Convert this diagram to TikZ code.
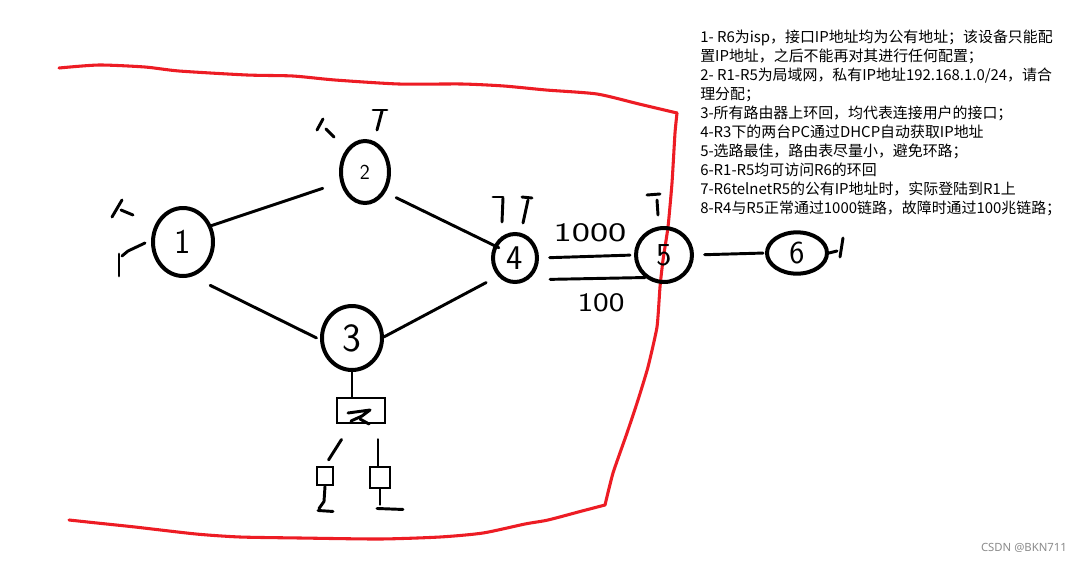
\documentclass[tikz,border=0pt]{standalone}
\usepackage{fontspec}
\newfontfamily\cjk{Noto Sans CJK SC}
\newfontfamily\wmfont{Noto Sans}
\usetikzlibrary{shapes.geometric,calc}
\definecolor{redpen}{RGB}{237,28,36}
\begin{document}
\begin{tikzpicture}[x=0.75pt,y=-0.75pt,
  router/.style={ellipse, draw=black, line width=3pt, inner sep=0pt},
  link/.style={line width=2.2pt, line cap=round},
  stroke/.style={line width=2.2pt, line cap=round, line join=round},
  redline/.style={draw=redpen, line width=2.3pt, line cap=round, line join=round},
  boxnode/.style={rectangle, draw=black, line width=2.2pt, inner sep=0pt},
  note/.style={anchor=base west, inner sep=0pt, font=\cjk\fontsize{11.2pt}{14pt}\selectfont},
  hand/.style={inner sep=0pt, font=\sffamily\fontsize{20pt}{20pt}\selectfont},
  ]
\useasboundingbox (0,0) rectangle (1082,561);
\fill[white] (0,0) rectangle (1082,561);

% red boundary
\draw[redline] plot[smooth, tension=0.4] coordinates {(59,68) (99,65) (145,67) (179,71) (247,75) (293,76) (335,80) (399,84) (462,84) (504,86) (546,90) (597,94) (639,104) (677,113)};
\draw[redline] plot[smooth, tension=0.3] coordinates {(677,113) (675,133) (672,183) (668,227) (663,260) (660,287) (657,327) (648,367) (638,400) (627,433) (613,473) (605,505)};
\draw[redline] plot[smooth, tension=0.4] coordinates {(605,505) (582,511) (548,520) (525,524) (483,533) (440,537) (380,539) (300,538) (240,537) (196,534) (135,527) (97,523) (69,520)};

% routers
\node[router, minimum width=45pt, minimum height=51pt, font=\sffamily\fontsize{26pt}{26pt}\selectfont] (r1) at (183,242) {1};
\node[router, minimum width=36pt, minimum height=46.5pt, font=\sffamily\fontsize{16pt}{16pt}\selectfont] (r2) at (365,172) {2};
\node[router, minimum width=45pt, minimum height=48pt, font=\sffamily\fontsize{30pt}{30pt}\selectfont] (r3) at (352,338) {3};
\node[router, minimum width=33pt, minimum height=36pt, font=\sffamily\fontsize{26pt}{26pt}\selectfont] (r4) at (515,258) {4};
\node[router, minimum width=42pt, minimum height=40.5pt, font=\sffamily\fontsize{24pt}{24pt}\selectfont] (r5) at (664,255) {5};
\node[router, minimum width=45pt, minimum height=31pt, font=\sffamily\fontsize{24pt}{24pt}\selectfont] (r6) at (797,253) {6};

% links
\draw[link, shorten >=13.9pt] (r1.30) -- (r2.203);
\draw[link, shorten <=9pt, shorten >=-4pt] (r2.-45) -- (r4.149);
\draw[link, shorten <=15pt, shorten >=3pt] (r1.-75) -- (r3.183);
\draw[link, shorten >=10pt] (r3.2) -- (r4.227);
\draw[link, shorten <=8pt, shorten >=3pt] (r4.east) -- (r5.west);
\draw[link, shorten <=16.5pt] (r4.-59) -- (r5.230);
\draw[link, shorten <=8pt, shorten >=1.5pt] (r5.east) -- (r6.west);

\node[hand, xscale=1.45] (l1000) at (590,233) {1000};
\node[hand, xscale=1.25] (l100) at (601,303) {100};

% switch and PCs
\node[boxnode, minimum width=36pt, minimum height=18.75pt] (sw) at (361,410.5) {};
\draw[link] (r3.south) -- (r3.south |- sw.north);
\draw[stroke] (348,413) -- (370,410) -- (362,416) -- (351,421);
\draw[stroke] (360,419) -- (369,424);
\node[boxnode, minimum width=12pt, minimum height=13.5pt] (pc1) at (325,476) {};
\node[boxnode, minimum width=15pt, minimum height=15.75pt] (pc2) at (380,477.5) {};
\coordinate (swl) at ($(sw.south west)+(6,15)$);
\coordinate (swr) at ($(sw.south)+(17,15)$);
\draw[link, shorten >=5pt] (swl) -- (pc1.north);
\draw[link] (swr) -- (swr |- pc2.north);
\draw[stroke] (pc1.south) -- ++(-1,15) -- ++(-5,7);
\draw[stroke] ($(pc1.south)+(-7,24)$) -- ++(15,1);
\draw[stroke] (pc2.south) -- ++(0,15);
\draw[stroke] ($(pc2.south)+(-3,19)$) -- ++(26,1);

% loopback marks
\draw[stroke] (323,119) -- (317,130);
\draw[stroke] (326,129) -- (334,137);
\draw[stroke] (373,110) -- (387,110);
\draw[stroke] (382,111) -- (377,130);
\draw[stroke] (122,200) -- (112,217);
\draw[stroke] (121,210) -- (133,215);
\draw[stroke] (145,243) -- (128,251) -- (122,256);
\draw[stroke] (119,254) -- (119,276);
\draw[stroke] (493,197) -- (503,197);
\draw[stroke] (503,198) -- (502,222);
\draw[stroke] (522,197) -- (532,198);
\draw[stroke] (528,200) -- (523,223);
\draw[stroke] (647,195) -- (660,194);
\draw[stroke] (657,200) -- (658,215);
\draw[stroke] (r6.east) -- ++(8,-2);
\draw[stroke] (843,238) -- (840,257);

% notes
\node[note] (t1) at (700,42.5) {1- R6为isp，接口IP地址均为公有地址；该设备只能配};
\node[note] (t2) at (700,61.5) {置IP地址，之后不能再对其进行任何配置；};
\node[note] (t3) at (700,80.5) {2- R1-R5为局域网，私有IP地址192.168.1.0/24，请合};
\node[note] (t4) at (700,99.5) {理分配；};
\node[note] (t5) at (700,118.5) {3-所有路由器上环回，均代表连接用户的接口；};
\node[note] (t6) at (700,137.5) {4-R3下的两台PC通过DHCP自动获取IP地址};
\node[note] (t7) at (700,156.5) {5-选路最佳，路由表尽量小，避免环路；};
\node[note] (t8) at (700,175.5) {6-R1-R5均可访问R6的环回};
\node[note] (t9) at (700,194.5) {7-R6telnetR5的公有IP地址时，实际登陆到R1上};
\node[note] (t10) at (700,213.5) {8-R4与R5正常通过1000链路，故障时通过100兆链路；};

\node[inner sep=0pt, font=\wmfont\fontsize{8.5pt}{10pt}\selectfont, text=black!45] (wm) at (1024,548) {CSDN @BKN711};
\end{tikzpicture}
\end{document}
